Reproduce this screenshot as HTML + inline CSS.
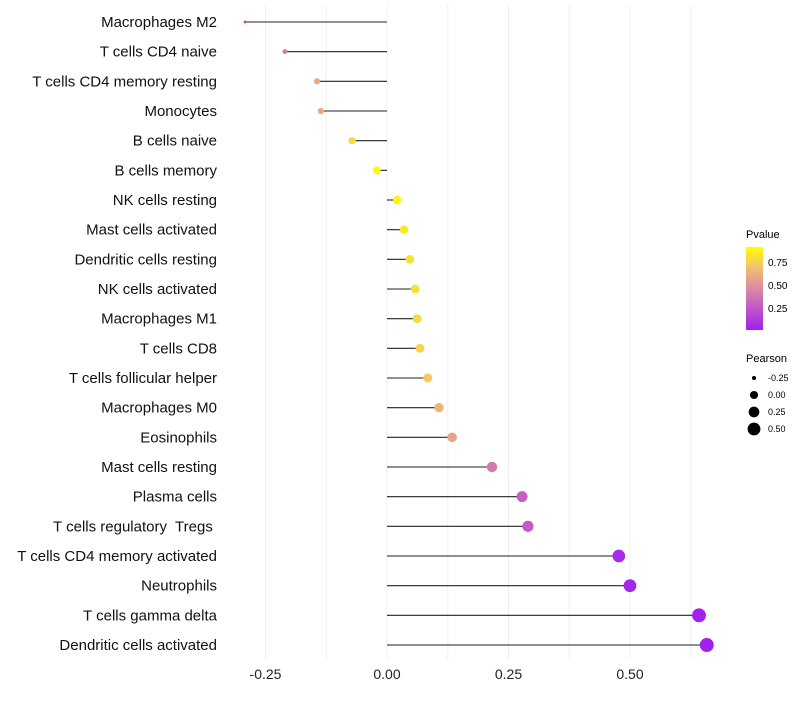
<!DOCTYPE html>
<html><head><meta charset="utf-8"><style>
body{margin:0;background:#fff;font-family:"Liberation Sans",sans-serif}
text{white-space:pre}
</style></head><body>
<svg id="chart" width="800" height="700" xmlns="http://www.w3.org/2000/svg">
<defs><linearGradient id="pg" x1="0" y1="1" x2="0" y2="0">
<stop offset="0" stop-color="#a020f0"/><stop offset="0.5" stop-color="#dc8aa2"/><stop offset="0.75" stop-color="#f0c070"/><stop offset="1" stop-color="#ffff00"/></linearGradient></defs>
<g id="grid"></g><g id="marks"></g><g id="labels"></g><g id="xaxis"></g>
<g font-size="10">
<text x="746" y="238" font-size="11">Pvalue</text>
<rect x="746" y="247" width="17" height="83" fill="url(#pg)"/>
<text x="768" y="266">0.75</text><text x="768" y="289">0.50</text><text x="768" y="312">0.25</text>
</g>
<g id="sizeleg" font-size="9"><text x="746" y="362" font-size="11">Pearson</text></g>
</svg>
<script>
const categories=["Macrophages M2","T cells CD4 naive","T cells CD4 memory resting","Monocytes","B cells naive","B cells memory","NK cells resting","Mast cells activated","Dendritic cells resting","NK cells activated","Macrophages M1","T cells CD8","T cells follicular helper","Macrophages M0","Eosinophils","Mast cells resting","Plasma cells","T cells regulatory  Tregs ","T cells CD4 memory activated","Neutrophils","T cells gamma delta","Dendritic cells activated"];
const pearson=[-0.292,-0.21,-0.144,-0.136,-0.072,-0.021,0.021,0.035,0.047,0.058,0.062,0.068,0.084,0.107,0.134,0.216,0.278,0.29,0.477,0.5,0.642,0.658];
const pvalues=[0.2,0.45,0.65,0.65,0.85,0.98,0.97,0.92,0.88,0.88,0.85,0.83,0.78,0.7,0.62,0.42,0.3,0.28,0.05,0.04,0.01,0.01];
const xTicks=[-0.25,0,0.25,0.5];
const xTickLabels=["-0.25","0.00","0.25","0.50"];
const legendVals=[-0.25,0,0.25,0.5];
const legendLabels=["-0.25","0.00","0.25","0.50"];
const NS="http://www.w3.org/2000/svg";
const X=v=>387+v*486;
const Y=i=>22+i*(623/21);
const R=v=>Math.sqrt(Math.max(2,16.5+49.2*v));
function lerp(a,b,t){return a.map((x,i)=>Math.round(x+(b[i]-x)*t));}
const stops=[[0,[160,32,240]],[0.5,[220,138,162]],[0.75,[240,192,112]],[1,[255,255,0]]];
function col(p){for(let k=1;k<stops.length;k++){if(p<=stops[k][0]){const t=(p-stops[k-1][0])/(stops[k][0]-stops[k-1][0]);return "rgb("+lerp(stops[k-1][1],stops[k][1],t).join(",")+")";}}return "rgb(255,255,0)";}
function mk(t,a,p){const e=document.createElementNS(NS,t);for(const k in a)e.setAttribute(k,a[k]);p.appendChild(e);return e;}
const grid=document.getElementById('grid'),marks=document.getElementById('marks'),labels=document.getElementById('labels'),xa=document.getElementById('xaxis');
for(let v=-0.25;v<=0.626;v+=0.125){const g=mk('line',{x1:X(v),x2:X(v),y1:5,y2:660,stroke:'#f0f0f0','stroke-width':1},grid);

}
categories.forEach((c,i)=>{
const y=Y(i);
const l=mk('line',{x1:X(0),x2:X(pearson[i]),y1:y,y2:y,stroke:'#222','stroke-width':1.1},marks);


const d=mk('circle',{cx:X(pearson[i]),cy:y,r:R(pearson[i]),fill:col(pvalues[i])},marks);


const t=mk('text',{x:217,y:y+5,'text-anchor':'end','font-size':15,fill:'#111'},labels);
t.textContent=c;


});
xTicks.forEach((v,i)=>{const t=mk('text',{x:X(v),y:679,'text-anchor':'middle','font-size':14,fill:'#222'},xa);
t.textContent=xTickLabels[i];

});
const sl=document.getElementById('sizeleg');
legendVals.forEach((v,i)=>{const y=378+i*17;
const c=mk('circle',{cx:754,cy:y,r:R(v),fill:'#000'},sl);


const t=mk('text',{x:768,y:y+3},sl);t.textContent=legendLabels[i];

});
</script>
</body></html>
